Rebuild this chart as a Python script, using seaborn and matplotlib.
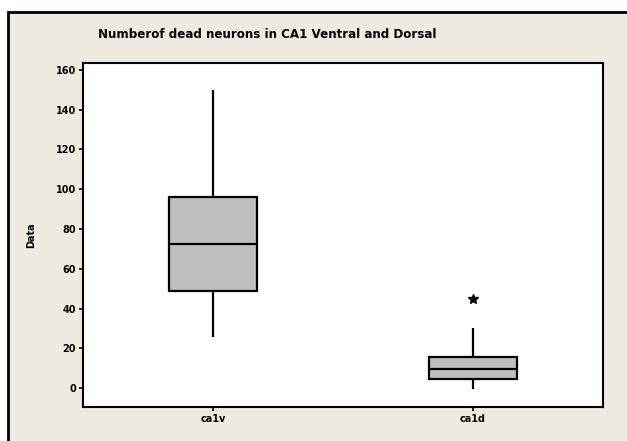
import matplotlib
matplotlib.use("Agg")
import matplotlib.pyplot as plt
import seaborn as sns
import pandas as pd
from matplotlib.patches import Rectangle

sns.set_style("white")
plt.rcParams['font.family'] = ['DejaVu Sans']
plt.rcParams['text.color'] = 'black'
plt.rcParams['axes.labelcolor'] = 'black'
plt.rcParams['xtick.color'] = 'black'
plt.rcParams['ytick.color'] = 'black'

# values (chosen so the box summaries match)
categories = ['ca1v', 'ca1d']
ca1v = [25.6, 49, 72.4, 96, 150]
ca1d = [-0.5, 3, 4.5, 7, 9.5, 12, 15.6, 30, 45]
yticks = [0, 20, 40, 60, 80, 100, 120, 140, 160]

df = pd.DataFrame({
    'group': ['ca1v'] * len(ca1v) + ['ca1d'] * len(ca1d),
    'Data': ca1v + ca1d,
})

W, H = 627, 441
fig = plt.figure(figsize=(W / 100, H / 100), dpi=100, facecolor='white')
# beige panel with dark border (cropped at right and bottom)
fig.patches.append(Rectangle((8 / W, -0.1), 1.2, 0.1 + 1 - 12 / H,
                             transform=fig.transFigure, facecolor='#EEEAE0',
                             edgecolor='black', linewidth=2, zorder=-5))

ax = fig.add_axes([83 / W, 1 - 407 / H, (603 - 83) / W, (407 - 63) / H])
ax.set_facecolor('white')

sns.boxplot(data=df, x='group', y='Data', order=categories, ax=ax,
            width=0.34, color='#BEBEBE', linecolor='black', linewidth=1.6,
            whis=1.5, showcaps=False,
            boxprops=dict(facecolor='#BEBEBE', edgecolor='black'),
            medianprops=dict(color='black', linewidth=1.6),
            whiskerprops=dict(color='black', linewidth=1.6),
            flierprops=dict(marker='*', markerfacecolor='black',
                            markeredgecolor='black', markersize=7))

ax.set_xlim(-0.5, 1.5)
ax.set_ylim(-9.5, 163.5)
ax.set_yticks(yticks)
ax.tick_params(axis='both', direction='out', length=3, width=1.2,
               labelsize=7, left=True, bottom=True, pad=2, colors='black')
for lab in ax.get_xticklabels() + ax.get_yticklabels():
    lab.set_fontweight('bold')
for s in ax.spines.values():
    s.set_color('black')
    s.set_linewidth(1.5)

ax.set_xlabel('')
ax.set_ylabel('Data', fontsize=7, fontweight='bold', labelpad=14, color='black')
fig.text(267 / W, 1 - 35 / H,
         'Numberof dead neurons in CA1 Ventral and Dorsal',
         ha='center', va='center', fontsize=8.6, fontweight='bold', color='black')

fig.savefig('out.png', dpi=100, facecolor=fig.get_facecolor())
